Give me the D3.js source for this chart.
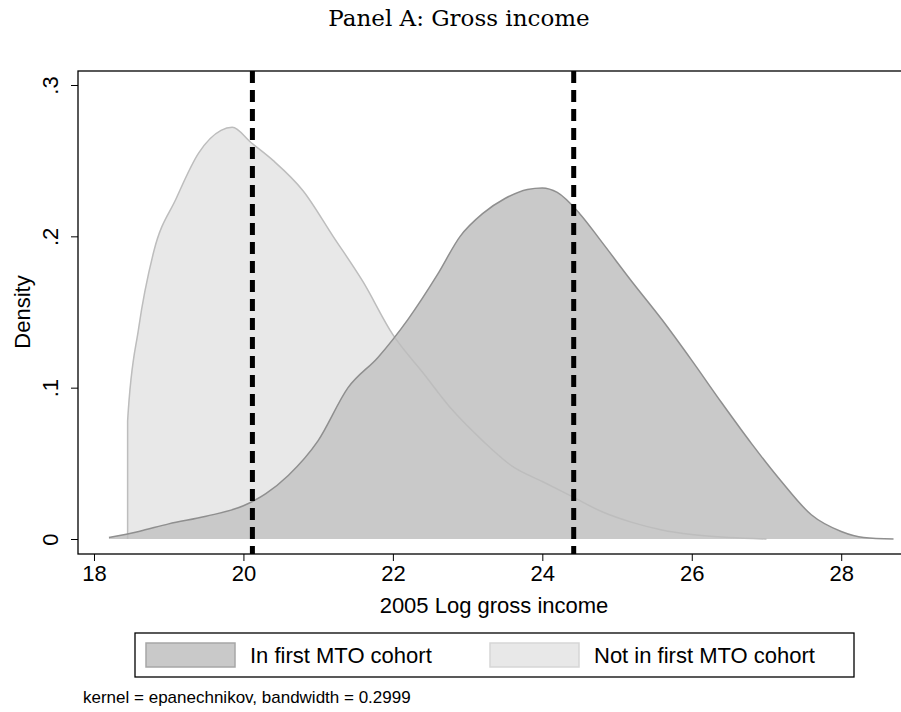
<!DOCTYPE html>
<html><head><meta charset="utf-8">
<script src="https://cdn.jsdelivr.net/npm/d3@7"></script>
<style>body{margin:0;background:#fff}</style>
</head><body>
<script>
const inX = [18.2,18.6,19,19.5,20,20.3,20.6,21,21.4,21.8,22.2,22.6,22.9,23.2,23.5,23.8,24.0,24.2,24.5,24.8,25.2,25.6,26,26.4,26.8,27.2,27.6,28,28.3,28.7];
const inY = [0.001,0.005,0.01,0.015,0.022,0.03,0.042,0.065,0.1,0.12,0.145,0.175,0.2,0.215,0.225,0.231,0.232,0.229,0.215,0.196,0.17,0.145,0.118,0.09,0.063,0.038,0.016,0.005,0.001,0];
const notX = [18.45,18.45,18.6,18.8,19.1,19.4,19.7,19.85,20.1,20.4,20.8,21.2,21.6,22,22.4,22.8,23.2,23.6,24,24.4,24.8,25.2,25.6,26,26.5,27];
const notY = [0,0.078,0.14,0.19,0.225,0.255,0.27,0.272,0.262,0.25,0.23,0.2,0.17,0.135,0.11,0.085,0.065,0.048,0.038,0.028,0.018,0.011,0.006,0.003,0.001,0];
const cutoffs = [20.12, 24.42];
const xTicks = [18,20,22,24,26,28];
const yTicks = [0,0.1,0.2,0.3];
const yTickLabels = ["0",".1",".2",".3"];
const legendLabels = ["In first MTO cohort","Not in first MTO cohort"];

const W=901,H=712, L=78,R=898,T=71,B=554;
const svg=d3.select("body").append("svg").attr("width",W).attr("height",H).style("font-family","Liberation Sans, Arial, sans-serif");
const x=d3.scaleLinear().domain([17.786,28.76]).range([L,R]);
const y=d3.scaleLinear().domain([0,0.3]).range([539,85]);

svg.append("text").attr("x",459).attr("y",26).attr("text-anchor","middle")
  .style("font-family","DejaVu Serif, serif").style("font-size","23px").text("Panel A: Gross income");

const area=d3.area().x(d=>x(d[0])).y0(y(0)).y1(d=>y(d[1])).curve(d3.curveMonotoneX);
const line=d3.line().x(d=>x(d[0])).y(d=>y(d[1])).curve(d3.curveMonotoneX);
const notD=notX.map((v,i)=>[v,notY[i]]), inD=inX.map((v,i)=>[v,inY[i]]);
svg.append("path").attr("d",area(notD)).attr("fill","#e8e8e8");
svg.append("path").attr("d",area(inD)).attr("fill","#c9c9c9");
svg.append("path").attr("d",line(notD)).attr("fill","none").attr("stroke","#bdbdbd").attr("stroke-width",1.5);
svg.append("path").attr("d",line(inD)).attr("fill","none").attr("stroke","#8f8f8f").attr("stroke-width",1.5);

svg.selectAll(".cut").data(cutoffs).enter().append("line")
  .attr("x1",d=>x(d)).attr("x2",d=>x(d)).attr("y1",T).attr("y2",B)
  .attr("stroke","#000").attr("stroke-width",5).attr("stroke-dasharray","12,7");

// frame runs past the right edge of the picture
svg.append("rect").attr("x",L).attr("y",T).attr("width",R-L+20).attr("height",B-T)
  .attr("fill","none").attr("stroke","#000").attr("stroke-width",1.3);

const xa=svg.append("g").attr("transform",`translate(0,${B})`)
  .call(d3.axisBottom(x).tickValues(xTicks).tickFormat(d3.format("d")).tickSize(7).tickPadding(4));
xa.select(".domain").remove();
xa.selectAll("text").style("font-size","22px").attr("dy","0.71em").attr("fill","#000");
const ya=svg.append("g").attr("transform",`translate(${L},0)`)
  .call(d3.axisLeft(y).tickValues(yTicks).tickFormat((d,i)=>yTickLabels[i]).tickSize(7));
ya.select(".domain").remove();
ya.selectAll("text").style("font-size","22px").attr("fill","#000")
  .attr("x",-28).attr("dy","0.35em").attr("text-anchor","middle")
  .attr("transform","rotate(-90,-28,0)");

svg.append("text").attr("x",494).attr("y",613).attr("text-anchor","middle").style("font-size","22px").text("2005 Log gross income");
svg.append("text").attr("transform","translate(30,312) rotate(-90)").attr("text-anchor","middle").style("font-size","22px").text("Density");

svg.append("rect").attr("x",135).attr("y",633).attr("width",719).attr("height",44).attr("fill","#fff").attr("stroke","#000").attr("stroke-width",1.3);
const lg=[{x:146,fill:"#c9c9c9",stroke:"#a6a6a6"},{x:490,fill:"#e8e8e8",stroke:"#d6d6d6"}];
lg.forEach((g,i)=>{
  svg.append("rect").attr("x",g.x).attr("y",643).attr("width",89).attr("height",24).attr("fill",g.fill).attr("stroke",g.stroke).attr("stroke-width",1.5);
  svg.append("text").attr("x",g.x+104).attr("y",663).style("font-size","22px").text(legendLabels[i]);
});
svg.append("text").attr("x",83).attr("y",703).style("font-size","17px").text("kernel = epanechnikov, bandwidth = 0.2999");
</script>
</body></html>
